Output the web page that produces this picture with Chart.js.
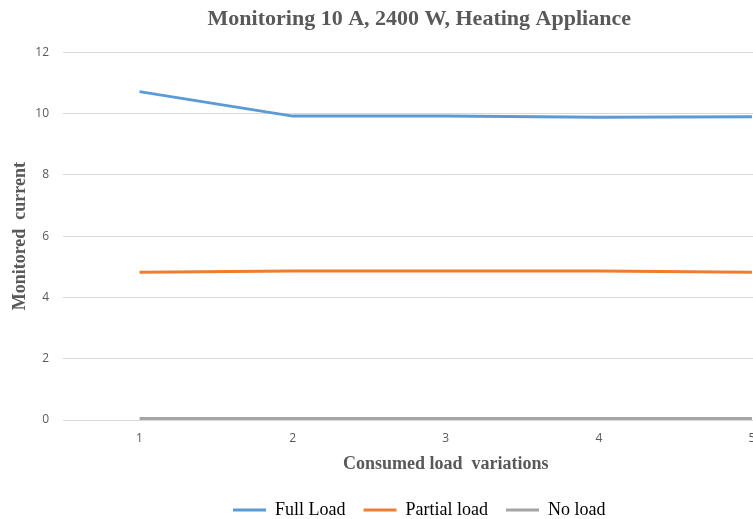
<!DOCTYPE html>
<html>
<head>
<meta charset="utf-8">
<script src="https://cdn.jsdelivr.net/npm/chart.js@4/dist/chart.umd.min.js"></script>
<style>
  body { margin: 0; background: #fff; }
  #wrap { width: 753px; height: 519px; overflow: hidden; }
</style>
</head>
<body>
<div id="wrap">
  <canvas id="chart" width="836" height="519"></canvas>
</div>
<script>
const loadSteps = ["1", "2", "3", "4", "5"];
const fullLoad = [10.72, 9.92, 9.92, 9.88, 9.90];
const partialLoad = [4.82, 4.86, 4.86, 4.86, 4.82];
const noLoad = [0.05, 0.05, 0.05, 0.05, 0.05];

const serif = "'Liberation Serif', 'Times New Roman', serif";
const grey = '#595959';

function lineSet(label, data, color) {
  return {
    label: label,
    data: data,
    borderColor: color,
    backgroundColor: color,
    borderWidth: 3,
    pointRadius: 0,
    tension: 0,
    fill: false
  };
}

new Chart(document.getElementById('chart'), {
  type: 'line',
  data: {
    labels: loadSteps,
    datasets: [
      lineSet('Full Load', fullLoad, '#5b9bd5'),
      lineSet('Partial load', partialLoad, '#ed7d31'),
      lineSet('No load', noLoad, '#a5a5a5')
    ]
  },
  options: {
    responsive: false,
    animation: false,
    layout: { padding: { left: 10, right: 7.5, top: 0, bottom: -10 } },
    plugins: {
      title: {
        display: true,
        text: 'Monitoring 10 A, 2400 W, Heating Appliance',
        color: grey,
        font: { family: serif, size: 22, weight: 'bold' },
        padding: { top: 6, bottom: 20 }
      },
      legend: {
        position: 'bottom',
        labels: {
          usePointStyle: true,
          pointStyle: 'line',
          pointStyleWidth: 33,
          color: '#000',
          font: { family: serif, size: 18 },
          padding: 18
        }
      },
      tooltip: { enabled: false }
    },
    scales: {
      x: {
        offset: true,
        afterFit: axis => { axis.height = 63; },
        grid: { display: false, drawTicks: false },
        border: { display: false },
        ticks: {
          color: grey,
          font: { family: "'Open Sans', sans-serif", size: 12 },
          padding: 11
        },
        title: {
          display: true,
          text: 'Consumed load  variations',
          color: grey,
          font: { family: serif, size: 18, weight: 'bold' },
          padding: { top: 8, bottom: 8 }
        }
      },
      y: {
        min: 0,
        max: 12,
        afterFit: axis => {
          axis.width = 53;
          axis.paddingTop = 0;
          axis.paddingBottom = 0;
        },
        grid: { color: '#d9d9d9', lineWidth: 1, drawTicks: false },
        border: { display: false },
        ticks: {
          stepSize: 2,
          color: grey,
          font: { family: "'Open Sans', sans-serif", size: 12 },
          padding: 14
        },
        title: {
          display: true,
          text: 'Monitored  current',
          color: grey,
          font: { family: serif, size: 18, weight: 'bold' },
          padding: 0
        }
      }
    }
  }
});
</script>
</body>
</html>
